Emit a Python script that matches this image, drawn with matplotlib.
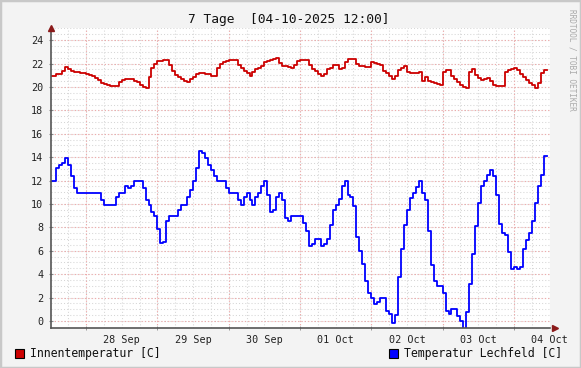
import numpy as np
import matplotlib
matplotlib.use("Agg")
from matplotlib import pyplot as plt
from matplotlib.patches import Rectangle

# hourly values, first hour = 27 Sep 00:00
innen = [
    20.94, 20.94, 21.1, 21.1, 21.4, 21.68, 21.56, 21.4, 21.28, 21.28,
    21.2, 21.2, 21.1, 21.0, 20.94, 20.77, 20.57, 20.34, 20.23, 20.14,
    20.06, 20.06, 20.06, 20.43, 20.6, 20.68, 20.68, 20.68, 20.51, 20.43,
    20.14, 19.97, 19.89, 20.83, 21.65, 21.94, 22.19, 22.19, 22.28, 22.28,
    21.85, 21.4, 21.0, 20.85, 20.68, 20.51, 20.43, 20.68, 20.85, 21.1,
    21.2, 21.2, 21.1, 21.1, 20.94, 20.94, 21.6, 22.0, 22.17, 22.26,
    22.28, 22.34, 22.34, 21.9, 21.6, 21.35, 21.17, 20.98, 21.25, 21.57,
    21.62, 21.82, 22.16, 22.25, 22.33, 22.42, 22.5, 22.08, 21.82, 21.82,
    21.74, 21.65, 21.9, 22.2, 22.33, 22.33, 22.33, 21.85, 21.57, 21.35,
    21.1, 20.9, 21.15, 21.57, 21.63, 21.9, 21.9, 21.52, 21.63, 22.12,
    22.35, 22.42, 22.42, 21.95, 21.82, 21.82, 21.68, 21.68, 22.16, 22.06,
    21.97, 21.87, 21.4, 21.2, 20.94, 20.72, 20.94, 21.42, 21.63, 21.75,
    21.25, 21.17, 21.17, 21.17, 21.3, 20.55, 20.87, 20.55, 20.45, 20.37,
    20.28, 20.2, 21.25, 21.46, 21.46, 20.96, 20.7, 20.45, 20.2, 20.03,
    19.94, 21.3, 21.55, 21.04, 20.79, 20.62, 20.7, 20.79, 20.54, 20.2,
    20.11, 20.11, 20.11, 21.3, 21.46, 21.55, 21.63, 21.46, 21.13, 20.87,
    20.62, 20.37, 20.2, 19.94, 20.37, 21.21, 21.46,
]

lechfeld = [
    12.0, 12.0, 13.06, 13.34, 13.5, 13.94, 13.34, 12.4, 11.39, 10.96,
    10.96, 10.96, 10.96, 10.96, 10.96, 10.96, 10.96, 10.37, 9.94, 9.94,
    9.94, 9.94, 10.57, 10.96, 10.96, 11.56, 11.39, 11.56, 12.0, 12.0,
    12.0, 11.39, 10.37, 9.94, 9.35, 9.0, 7.82, 6.66, 6.74, 8.58,
    9.0, 9.0, 9.0, 9.52, 9.94, 9.94, 10.57, 11.22, 12.0, 13.09,
    14.53, 14.36, 13.94, 13.34, 12.92, 12.4, 12.0, 12.0, 12.0, 11.39,
    10.96, 10.96, 10.96, 10.37, 9.94, 10.57, 10.96, 10.37, 9.94, 10.57,
    10.96, 11.56, 12.0, 10.79, 9.35, 9.52, 10.57, 10.96, 10.37, 8.84,
    8.58, 9.0, 9.0, 9.0, 9.0, 8.41, 7.73, 6.37, 6.6, 6.97,
    6.97, 6.37, 6.6, 6.97, 8.19, 9.52, 9.94, 10.45, 11.56, 12.0,
    10.79, 10.57, 9.86, 7.22, 5.95, 4.84, 3.43, 2.38, 1.98, 1.47,
    1.61, 1.98, 1.98, 0.85, 0.59, -0.17, 0.51, 3.74, 6.12, 8.19,
    9.49, 10.54, 10.96, 11.47, 12.0, 10.96, 10.37, 7.65, 4.82, 3.43,
    2.97, 2.97, 2.38, 0.85, 0.59, 1.02, 1.02, 0.42, 0.0, -0.7,
    0.76, 3.14, 5.69, 8.16, 10.08, 11.56, 12.0, 12.49, 12.92, 12.4,
    10.79, 8.33, 7.56, 7.39, 5.86, 4.42, 4.59, 4.42, 4.59, 6.12,
    6.88, 7.56, 8.58, 10.11, 11.56, 12.49, 14.11,
]

day_labels = ["28 Sep", "29 Sep", "30 Sep", "01 Oct", "02 Oct", "03 Oct", "04 Oct"]
title = "7 Tage  [04-10-2025 12:00]"

mono = "DejaVu Sans Mono"
W, H = 581, 368
fig = plt.figure(figsize=(W / 100, H / 100), dpi=100, facecolor="#F3F3F3")
fig.patches.append(Rectangle((0, 0), 1, 1, transform=fig.transFigure, fill=False,
                             edgecolor="#C8C8C8", lw=2.5))

ax = fig.add_axes([50.5 / W, 1 - 328 / H, 499 / W, 300 / H])
ax.set_facecolor("white")
ax.set_xlim(0, 168)
ax.set_ylim(-0.6, 25.04)

dot = (0, (1, 2))
for h in np.arange(6, 169, 6):
    ax.axvline(h, color="#D6D6D6", lw=0.75, ls=dot, zorder=1)
for v in np.arange(0, 25.1, 0.5):
    ax.axhline(v, color="#D6D6D6", lw=0.75, ls=dot, zorder=1)
for h in np.arange(12, 168, 24):
    ax.axvline(h, color="#F0A8A8", lw=0.8, ls=dot, zorder=1.5)
for v in np.arange(0, 25, 2):
    ax.axhline(v, color="#F0A8A8", lw=0.8, ls=dot, zorder=1.5)

hrs = np.arange(len(innen) + 1)
ax.step(hrs, innen + innen[-1:], where="post", color="#CC0000", lw=1.3, zorder=3)
hrs = np.arange(len(lechfeld) + 1)
ax.step(hrs, lechfeld + lechfeld[-1:], where="post", color="#0000FF", lw=1.3, zorder=3)

for s in ["top", "right"]:
    ax.spines[s].set_visible(False)
for s in ["left", "bottom"]:
    ax.spines[s].set_color("#555555")
    ax.spines[s].set_linewidth(1.2)
    ax.spines[s].set_zorder(4)

ax.set_yticks(np.arange(0, 25, 2))
ax.set_yticklabels([str(v) for v in range(0, 25, 2)], fontfamily=mono, fontsize=7.3,
                   color="#222222")
ax.set_xticks(np.arange(24, 169, 24))
ax.set_xticklabels(day_labels, fontfamily=mono, fontsize=7.3, color="#222222")
ax.set_xticks(np.arange(12, 168, 24), minor=True)
ax.tick_params(axis="x", which="major", length=0, pad=5)
ax.tick_params(axis="x", which="minor", length=2.5, direction="inout", color="#888888")
ax.tick_params(axis="y", length=2.5, direction="inout", color="#888888", pad=4)

# axis arrows
ax.plot([0], [1.0], marker="^", ms=5, color="#8B1A1A", transform=ax.transAxes,
        clip_on=False, zorder=5)
ax.plot([1.012], [0], marker=">", ms=5, color="#8B1A1A", transform=ax.transAxes,
        clip_on=False, zorder=5)

fig.text(289 / W, 1 - 19 / H, title, fontfamily=mono, fontsize=9.3, ha="center",
         va="center", color="#111111")
fig.text(572 / W, 1 - 60 / H, "RRDTOOL / TOBI OETIKER", fontfamily=mono, fontsize=5.6,
         rotation=-90, ha="center", va="center", color="#AAAAAA")

# legend
fig.patches.append(Rectangle((15 / W, 1 - 358 / H), 9 / W, 9 / H, transform=fig.transFigure,
                             facecolor="#CC0000", edgecolor="black", lw=0.8))
fig.text(30 / W, 1 - 354 / H, "Innentemperatur [C]", fontfamily=mono, fontsize=8.3,
         va="center", color="#111111")
fig.patches.append(Rectangle((389 / W, 1 - 358 / H), 9 / W, 9 / H, transform=fig.transFigure,
                             facecolor="#0000FF", edgecolor="black", lw=0.8))
fig.text(404 / W, 1 - 354 / H, "Temperatur Lechfeld [C]", fontfamily=mono, fontsize=8.3,
         va="center", color="#111111")

fig.savefig("out.png", dpi=100, facecolor=fig.get_facecolor())
